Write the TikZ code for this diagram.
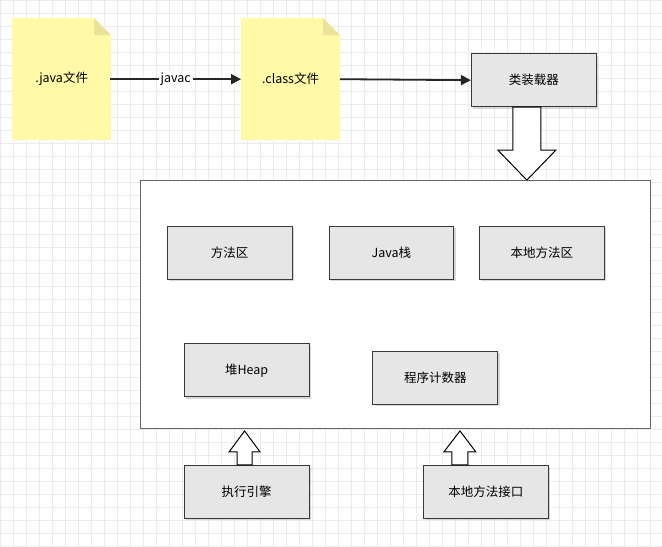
\documentclass[tikz,border=0pt]{standalone}
\usepackage{fontspec}
\setmainfont{Noto Sans CJK SC}
\usetikzlibrary{shapes.arrows,shadows,arrows.meta}
\definecolor{notey}{HTML}{FFF9A8}
\definecolor{boxg}{HTML}{E6E6E6}
\definecolor{edge}{HTML}{36393D}
\begin{document}
\begin{tikzpicture}[x=1pt,y=-1pt,
  box/.style={draw=edge,fill=boxg,line width=1pt,minimum width=125pt,minimum height=53pt,font=\fontsize{12.5}{14}\selectfont,drop shadow={shadow xshift=2pt,shadow yshift=-2pt,opacity=0.3}},
  conn/.style={draw=black!85,line width=1.8pt,-{Triangle[length=10pt,width=10pt]}},
  blk/.style={draw=black,line width=1pt,fill=white}]
\fill[white] (0,0) rectangle (662,546);
\foreach \i in {0,13,...,662} \draw[black!8,line width=0.5pt] (\i,0) -- (\i,546);
\foreach \i in {0,13,...,546} \draw[black!8,line width=0.5pt] (0,\i) -- (662,\i);
% notes
\foreach \n/\x/\t in {nj/12/.java文件, nc/241/.class文件}{
  \fill[notey] (\x,18) -- (\x+82,18) -- (\x+99,35) -- (\x+99,140) -- (\x,140) -- cycle;
  \fill[notey!70!black!30!notey] (\x+82,18) -- (\x+99,35) -- (\x+82,35) -- cycle;
  \node[font=\fontsize{12.5}{14}\selectfont] (\n) at (\x+49.5,79) {\t};
}
\coordinate (njr) at (110,79);
\coordinate (ncl) at (241,79);
\coordinate (ncr) at (340,79);
\node[box] (cl) at (534,80) {类装载器};
\draw[conn] (njr) -- node[fill=white,font=\fontsize{12.5}{14}\selectfont,inner sep=2pt] {javac} (ncl);
\draw[conn] (ncr) -- (cl.west);
% big box
\node[draw=black!60,fill=white,minimum width=511pt,minimum height=248pt,line width=0.6pt] (big) at (395.5,304) {};
\node[box] (m1) at (229.5,252.5) {方法区};
\node[box] (m2) at (391.5,252.5) {Java栈};
\node[box] (m3) at (542,252.5) {本地方法区};
\node[box] (h) at (246.5,370.5) {堆Heap};
\node[box] (pc) at (435.5,378) {程序计数器};
\node[box] (ex) at (246.5,492) {执行引擎};
\node[box] (ni) at (486,492) {本地方法接口};
% block arrows
\draw[blk] (513,107) -- (541,107) -- (541,150) -- (556,150) -- (527,180) -- (498,150) -- (513,150) -- cycle;
\draw[blk] (237,465) -- (252,465) -- (252,452) -- (260,452) -- (244.5,431) -- (229,452) -- (237,452) -- cycle;
\draw[blk] (452,465) -- (468,465) -- (468,452) -- (476,452) -- (460,431) -- (444,452) -- (452,452) -- cycle;
\end{tikzpicture}
\end{document}
